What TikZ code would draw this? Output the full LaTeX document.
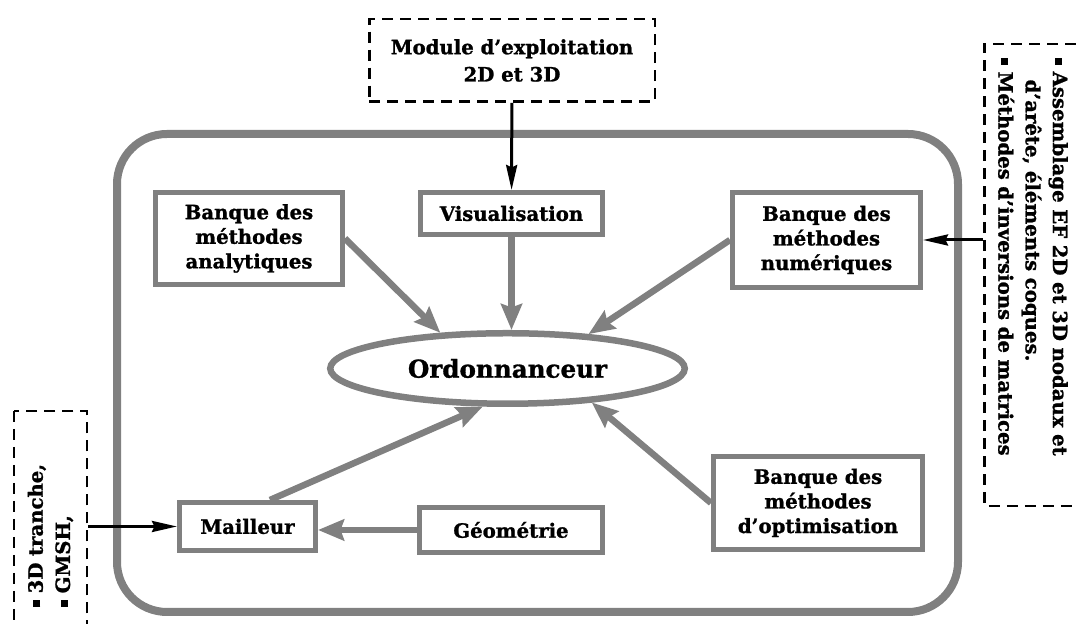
\documentclass[tikz,border=0pt]{standalone}
\usepackage{fontspec}
\setmainfont{DejaVu Serif}[BoldFeatures={FakeBold=1.2}]
\usetikzlibrary{shapes,arrows.meta,positioning}
\definecolor{framegray}{RGB}{128,128,128}
\newcommand{\sqbul}{\rule[0.12em]{0.36em}{0.36em}}

\begin{document}
\begin{tikzpicture}[bloc/.style={rectangle,draw=framegray,line width=0.1cm,font=\fontsize{11.2}{14}\selectfont\bfseries,align=center,inner sep=2pt},
ext/.style={rectangle,draw,line width=0.05cm,dash pattern=on 0.22cm off 0.14cm,font=\fontsize{11.2}{15.5}\selectfont\bfseries,align=center},
flux/.style={color=framegray,line width=0.13cm,-{Stealth[length=0.52cm,width=0.42cm,inset=0.07cm]}},
entree/.style={line width=0.06cm,-{Stealth[length=0.5cm,width=0.22cm,inset=0.05cm]}}]
\useasboundingbox (0,0) rectangle (21.52,12.48);
\draw[framegray,line width=0.16cm,rounded corners=1cm] (2.34,0.24) rectangle (19.16,9.80);

\node[ext,minimum width=5.71cm,minimum height=1.65cm] at (10.24,11.27) (module) {Module d’exploitation\\2D et 3D};
\node[bloc,minimum width=3.64cm,minimum height=0.84cm] at (10.23,8.21) (visu) {Visualisation};
\node[bloc,minimum width=3.74cm,minimum height=1.84cm] at (4.98,7.71) (analyt) {Banque des\\méthodes\\analytiques};
\node[bloc,minimum width=3.76cm,minimum height=1.90cm] at (16.53,7.68) (numer) {Banque des\\méthodes\\numériques};
\node[ellipse,draw=framegray,line width=0.13cm,minimum width=7.09cm,minimum height=1.41cm,font=\fontsize{14}{16}\selectfont\bfseries] at (10.15,5.11) (ordo) {Ordonnanceur};
\node[bloc,minimum width=2.72cm,minimum height=0.96cm] at (4.95,1.95) (mailleur) {Mailleur};
\node[bloc,minimum width=3.66cm,minimum height=0.90cm] at (10.22,1.88) (geo) {Géométrie};
\node[bloc,minimum width=4.18cm,minimum height=1.86cm] at (16.36,2.42) (optim) {Banque des\\méthodes\\d’optimisation};
\node[ext,rotate=90,align=left,text width=3.48cm,inner xsep=0.44cm,minimum height=1.45cm] at (1.01,2.08) (logiciels) {\sqbul\ 3D tranche,\\\sqbul\ GMSH,};
\node[ext,rotate=-90,align=left,text width=8.68cm,inner xsep=0.28cm,minimum height=1.95cm] at (20.66,6.98) (outils) {\sqbul\ Assemblage EF 2D et 3D nodaux et\\\hspace*{1.1em}d’arête, éléments coques.\\\sqbul\ Méthodes d’inversions de matrices};

\draw[entree] (module) -- (visu);
\draw[entree] (numer.east -| outils.south) -- (numer.east);
\draw[entree] (mailleur.west -| logiciels.south) -- (mailleur.west);
\draw[flux] (analyt.east) -- (ordo.152);
\draw[flux] (visu.south) -- (visu.south |- ordo.north);
\draw[flux] (numer.west) -- (ordo.23);
\draw[flux] ([xshift=0.45cm]mailleur.north) -- (ordo.237);
\draw[flux] (optim.west) -- (ordo.338);
\draw[flux] (geo.west) -- (geo.west -| mailleur.east);
\end{tikzpicture}
\end{document}
